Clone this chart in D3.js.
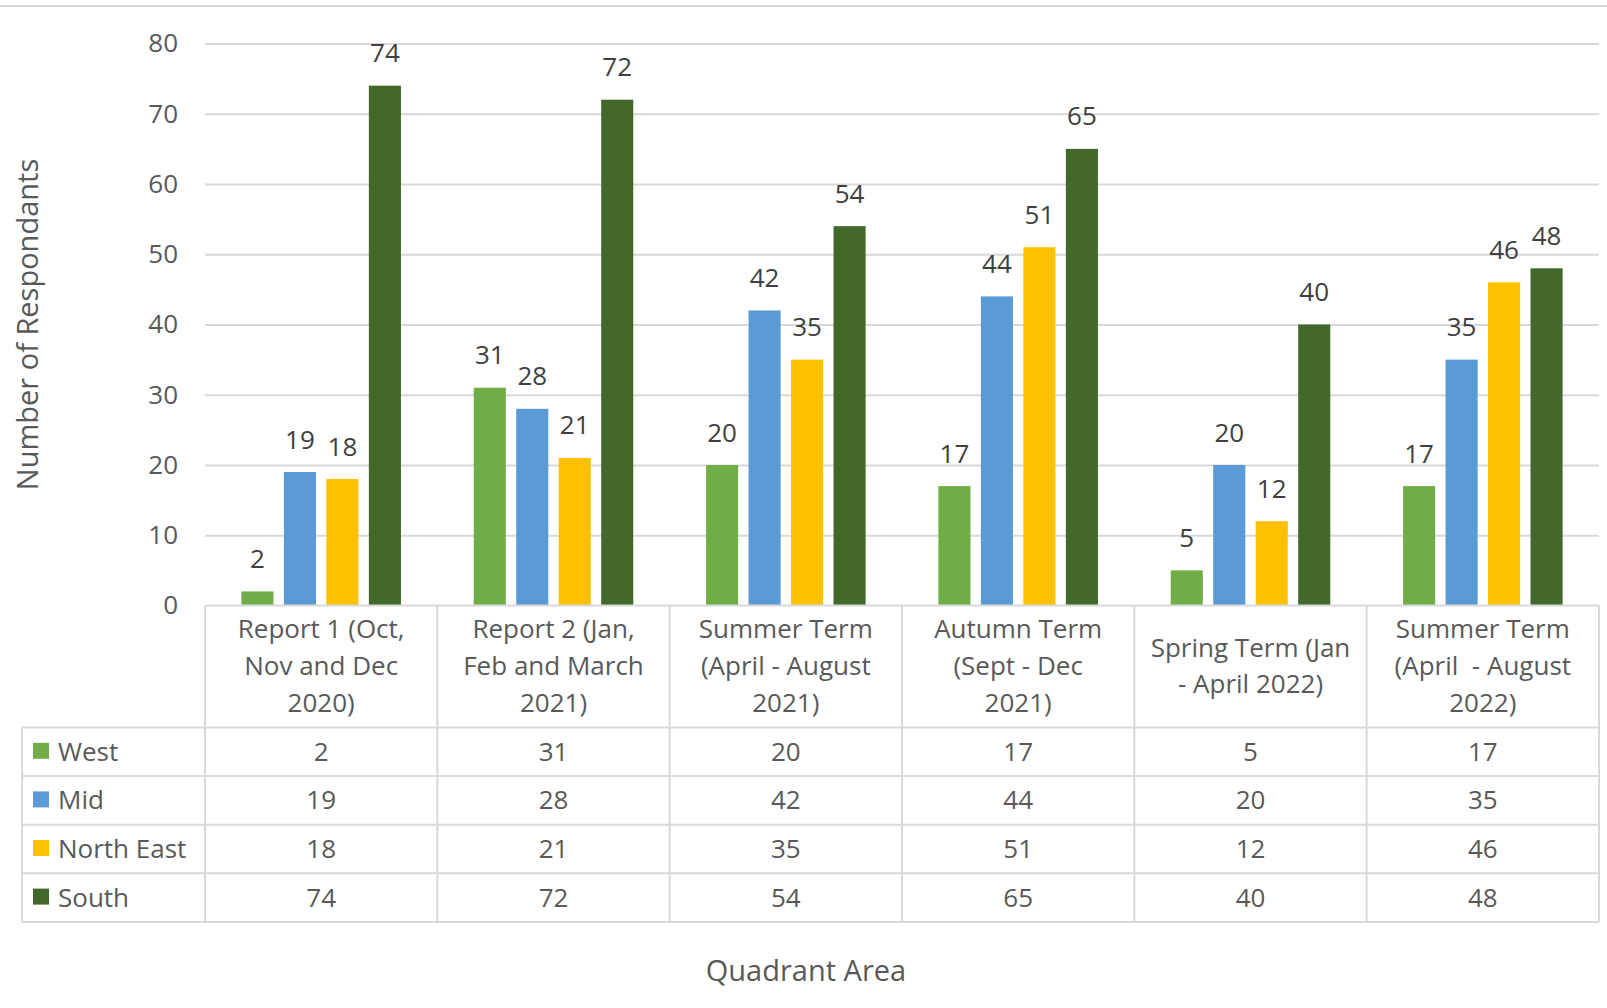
<!DOCTYPE html>
<html>
<head>
<meta charset="utf-8">
<script src="https://cdn.jsdelivr.net/npm/d3@7"></script>
<style>
  body { margin: 0; background: #fff; }
  text { font-family: "Open Sans", sans-serif; }
</style>
</head>
<body>
<svg id="chart" width="1607" height="1008"></svg>
<script>
// Survey terms (line breaks as laid out in the table header)
const categories = [
  "Report 1 (Oct,\nNov and Dec\n2020)",
  "Report 2 (Jan,\nFeb and March\n2021)",
  "Summer Term\n(April - August\n2021)",
  "Autumn Term\n(Sept - Dec\n2021)",
  "Spring Term (Jan\n- April 2022)",
  "Summer Term\n(April  - August\n2022)"
];
const seriesNames = ["West", "Mid", "North East", "South"];
const west = [2, 31, 20, 17, 5, 17];
const mid = [19, 28, 42, 44, 20, 35];
const northEast = [18, 21, 35, 51, 12, 46];
const south = [74, 72, 54, 65, 40, 48];
const yTicks = [0, 10, 20, 30, 40, 50, 60, 70, 80];
const seriesColors = ["#70ad47", "#5b9bd5", "#ffc000", "#43682b"];

const seriesValues = [west, mid, northEast, south];

const svg = d3.select("#chart");
const W = 1607;
const plot = { left: 205, right: 1599, top: 43.5, bottom: 605.5 };
const tableLeft = 22;
const headerBottom = 727.5;
const rowH = 48.6;
const gridColor = "#d9d9d9";
const textColor = "#595959";
const labelColor = "#404040";
const fs = 26;
const titleFs = 29;

// Outer chart border (top edge)
svg.append("line")
  .attr("x1", 0).attr("x2", W).attr("y1", 6).attr("y2", 6)
  .attr("stroke", gridColor).attr("stroke-width", 2);

const x0 = d3.scaleBand().domain(categories).range([plot.left, plot.right]);
const groupInset = 36.4;
const x1 = d3.scaleBand().domain(seriesNames)
  .range([groupInset, x0.bandwidth() - groupInset])
  .paddingInner(0.245);
const y = d3.scaleLinear().domain([0, 80]).range([plot.bottom, plot.top]);

// Horizontal gridlines
const grid = svg.append("g")
  .attr("transform", `translate(${plot.left},0)`)
  .call(d3.axisLeft(y).tickValues(yTicks.filter(d => d > 0))
    .tickSize(-(plot.right - plot.left)).tickFormat(""));
grid.select(".domain").remove();
grid.selectAll(".tick line").attr("stroke", gridColor).attr("stroke-width", 2);

// Y tick labels
const yAxis = svg.append("g")
  .attr("transform", `translate(${plot.left},0)`)
  .call(d3.axisLeft(y).tickValues(yTicks).tickSize(0).tickPadding(27));
yAxis.select(".domain").remove();
yAxis.selectAll("text")
  .attr("font-size", fs).attr("fill", textColor)
  .attr("font-family", "Open Sans, sans-serif");

// Bars
const groups = svg.append("g").selectAll("g")
  .data(categories)
  .join("g")
  .attr("transform", d => `translate(${x0(d)},0)`);

groups.selectAll("rect")
  .data((c, ci) => seriesNames.map((s, si) => ({ s, si, v: seriesValues[si][ci] })))
  .join("rect")
  .attr("x", d => x1(d.s))
  .attr("width", x1.bandwidth())
  .attr("y", d => y(d.v))
  .attr("height", d => y(0) - y(d.v))
  .attr("fill", d => seriesColors[d.si]);

// Value labels above bars
groups.selectAll("text.val")
  .data((c, ci) => seriesNames.map((s, si) => ({ s, si, v: seriesValues[si][ci] })))
  .join("text")
  .attr("class", "val")
  .attr("x", d => x1(d.s) + x1.bandwidth() / 2)
  .attr("y", d => y(d.v) - 23.5)
  .attr("text-anchor", "middle")
  .attr("font-size", fs)
  .attr("fill", labelColor)
  .text(d => d.v);

// Data table
const table = svg.append("g");
const rowTops = seriesNames.map((s, i) => headerBottom + i * rowH);
const tableBottom = headerBottom + seriesNames.length * rowH;
const hLine = (x1v, x2v, yv) => table.append("line")
  .attr("x1", x1v).attr("x2", x2v).attr("y1", yv).attr("y2", yv)
  .attr("stroke", gridColor).attr("stroke-width", 2);
const vLine = (xv, y1v, y2v) => table.append("line")
  .attr("x1", xv).attr("x2", xv).attr("y1", y1v).attr("y2", y2v)
  .attr("stroke", gridColor).attr("stroke-width", 2);

hLine(plot.left, plot.right, plot.bottom);
rowTops.forEach(t => hLine(tableLeft, plot.right, t));
hLine(tableLeft, plot.right, tableBottom);
vLine(tableLeft, headerBottom, tableBottom);
categories.forEach(c => vLine(x0(c), plot.bottom, tableBottom));
vLine(plot.right, plot.bottom, tableBottom);

// Header: category names
const headerMid = (plot.bottom + headerBottom) / 2;
const lineGap = 36.7;
categories.forEach(c => {
  const lines = c.split("\n");
  const t = table.append("text")
    .attr("text-anchor", "middle")
    .attr("font-size", fs)
    .attr("fill", textColor)
    .style("white-space", "pre");
  lines.forEach((ln, i) => {
    t.append("tspan")
      .attr("x", x0(c) + x0.bandwidth() / 2)
      .attr("y", headerMid + 8.6 + (i - (lines.length - 1) / 2) * lineGap)
      .text(ln);
  });
});

// Rows: legend key, series name and values
seriesNames.forEach((s, si) => {
  const cy = rowTops[si] + rowH / 2;
  table.append("rect")
    .attr("x", 33).attr("y", cy - 9).attr("width", 16).attr("height", 16)
    .attr("fill", seriesColors[si]);
  table.append("text")
    .attr("x", 58).attr("y", cy + 9)
    .attr("font-size", fs).attr("fill", textColor)
    .text(s);
  categories.forEach((c, ci) => {
    table.append("text")
      .attr("x", x0(c) + x0.bandwidth() / 2)
      .attr("y", cy + 9)
      .attr("text-anchor", "middle")
      .attr("font-size", fs).attr("fill", textColor)
      .text(seriesValues[si][ci]);
  });
});

// Axis titles
svg.append("text")
  .attr("transform", `translate(38,${(plot.top + plot.bottom) / 2}) rotate(-90)`)
  .attr("text-anchor", "middle")
  .attr("font-size", titleFs).attr("fill", textColor)
  .text("Number of Respondants");

svg.append("text")
  .attr("x", 806).attr("y", 981)
  .attr("text-anchor", "middle")
  .attr("font-size", titleFs).attr("fill", textColor)
  .text("Quadrant Area");
</script>
</body>
</html>
